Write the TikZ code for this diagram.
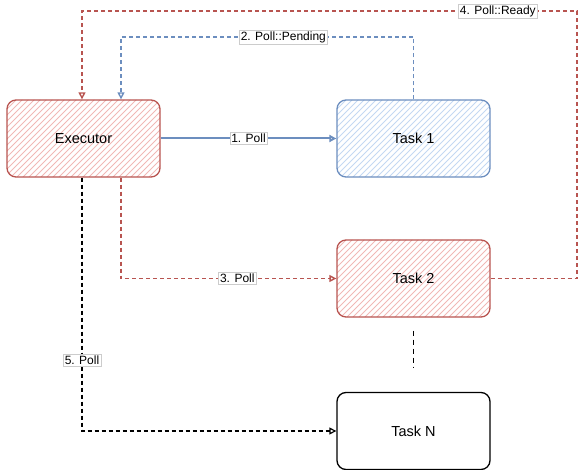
\documentclass[tikz,border=0pt]{standalone}
\usepackage{fontspec}
\setmainfont{Liberation Sans}
\usetikzlibrary{arrows.meta,calc}
\definecolor{redS}{HTML}{B85450}
\definecolor{redF}{HTML}{F0B8B6}
\definecolor{blueS}{HTML}{6C8EBF}
\definecolor{blueF}{HTML}{C4D8F2}
\begin{document}
\begin{tikzpicture}[x=1pt,y=-1pt,
  box/.style={rounded corners=9pt, line width=1.3pt, minimum width=153pt, minimum height=77pt,
    font=\fontsize{14.5}{17}\selectfont, inner sep=0pt},
  hatch/.style={path picture={
      \foreach \i in {-170,-164,...,160}
        \draw[#1, line width=0.9pt] ($(path picture bounding box.south west)+(\i pt,0pt)$) -- ++(90pt,90pt);}},
  redbox/.style={box, draw=redS, hatch=redF},
  bluebox/.style={box, draw=blueS, hatch=blueF},
  blackbox/.style={box, draw=black, fill=white},
  tip/.style={-{Triangle[open,length=7pt,width=7pt]}},
  lbl/.style={font=\fontsize{12}{14}\selectfont, fill=white, draw=gray!40, solid, line width=0.4pt, inner sep=1.5pt, text=black},
  conn/.style={line width=1.4pt, dash pattern=on 4pt off 3pt, tip},
]
\useasboundingbox (0,0) rectangle (578,470);

\node[redbox] (exec) at (83.5,138.5) {Executor};
\node[bluebox] (t1) at (413.5,138.5) {Task 1};
\node[redbox] (t2) at (413.5,278.5) {Task 2};
\node[blackbox] (tn) at (413.5,431) {Task N};

% 1. Poll
\draw[blueS, line width=2pt, tip] (exec.east) -- node[lbl]{1. Poll} (t1.west);

% 2. Poll::Pending
\draw[conn, blueS] (t1.north) -- (413.5,37) -- node[lbl, pos=0.445]{2. Poll::Pending} (121,37) -- ([xshift=37.5pt]exec.north);

% 3. Poll
\draw[conn, redS] ([xshift=37.5pt]exec.south) |- node[lbl, pos=0.77]{3. Poll} (t2.west);

% 4. Poll::Ready
\draw[conn, redS] (t2.east) -- (577,278.5) -- (577,11) -- node[lbl, pos=0.16]{4. Poll::Ready} (82,11) -- ([xshift=-1.5pt]exec.north);

% 5. Poll
\draw[conn, black, line width=1.2pt] ([xshift=-1.5pt]exec.south) |- node[lbl, pos=0.36]{5. Poll} (tn.west);

% ellipsis between Task 2 and Task N
\coordinate (d1) at ([yshift=-13pt]t2.south);
\coordinate (d2) at ([yshift=25pt]tn.north);
\draw[black, line width=1.2pt, dash pattern=on 5pt off 4pt] (d1) -- (d2);
\end{tikzpicture}
\end{document}
